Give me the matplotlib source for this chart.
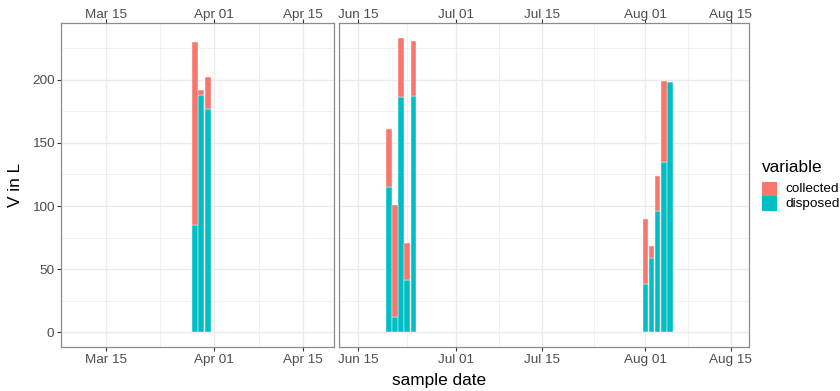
import matplotlib
matplotlib.use("Agg")
import matplotlib.pyplot as plt
import matplotlib.dates as mdates
import matplotlib.transforms as mtrans
from matplotlib.patches import Rectangle
import numpy as np
import datetime as dt

plt.rcParams['font.family'] = ['Liberation Sans', 'DejaVu Sans']

# ---------------- data ----------------
dates_spring = ['2021-03-29', '2021-03-30', '2021-03-31']
disposed_spring = [85, 188, 177]
collected_spring = [145, 4, 25]

dates_summer = ['2021-06-20', '2021-06-21', '2021-06-22', '2021-06-23', '2021-06-24',
                '2021-08-01', '2021-08-02', '2021-08-03', '2021-08-04', '2021-08-05']
disposed_summer = [115, 12, 186, 41, 187, 38, 59, 96, 135, 198]
collected_summer = [46, 89, 47, 30, 44, 52, 9, 28, 64, 0]

ticks_spring = ['2021-03-15', '2021-04-01', '2021-04-15']
ticks_summer = ['2021-06-15', '2021-07-01', '2021-07-15', '2021-08-01', '2021-08-15']
tick_labels_spring = ['Mar 15', 'Apr 01', 'Apr 15']
tick_labels_summer = ['Jun 15', 'Jul 01', 'Jul 15', 'Aug 01', 'Aug 15']

series_names = ['collected', 'disposed']
col_collected = '#F8766D'
col_disposed = '#00BFC4'

y_ticks = [0, 50, 100, 150, 200]

# ---------------- figure ----------------
W, H = 840, 391
fig = plt.figure(figsize=(W / 100, H / 100), dpi=100)

def px_axes(x0, y0, x1, y1):
    return fig.add_axes([x0 / W, 1 - y1 / H, (x1 - x0) / W, (y1 - y0) / H])

ax1 = px_axes(61, 23, 334, 347)
ax2 = px_axes(339, 23, 749, 347)

def d2n(s):
    return mdates.date2num(dt.datetime.strptime(s, '%Y-%m-%d'))

grid_col = '#EBEBEB'
tick_col = '#4D4D4D'

def style_panel(ax, dates, disp, coll, ticks, labels, xlim, show_y):
    x = np.array([d2n(d) for d in dates])
    disp = np.array(disp, float)
    coll = np.array(coll, float)
    ax.bar(x, disp, width=0.9, color=col_disposed, zorder=3, edgecolor='white', linewidth=0.3)
    ax.bar(x, coll, width=0.9, bottom=disp, color=col_collected, zorder=3,
           edgecolor='white', linewidth=0.3)
    ax.set_xlim(d2n(xlim[0]) + xlim[2], d2n(xlim[1]) + xlim[3])
    ax.set_ylim(-11.7, 245.0)
    tk = [d2n(t) for t in ticks]
    ax.set_xticks(tk)
    ax.set_xticklabels(labels)
    minors = [(a + b) / 2 for a, b in zip(tk[:-1], tk[1:])]
    ax.set_xticks(minors, minor=True)
    ax.set_yticks(y_ticks)
    ax.set_yticks([25, 75, 125, 175, 225], minor=True)
    ax.grid(True, which='major', color=grid_col, linewidth=1.0, zorder=0)
    ax.grid(True, which='minor', color=grid_col, linewidth=0.5, zorder=0)
    ax.set_axisbelow(True)
    ax.tick_params(axis='x', which='major', top=True, labeltop=True, bottom=True,
                   labelbottom=True, length=2.7, width=0.8, color='#333333',
                   labelcolor=tick_col, labelsize=9.7, pad=2.0)
    ax.tick_params(axis='x', which='minor', top=False, bottom=False, length=0)
    ax.tick_params(axis='y', which='minor', left=False, length=0)
    if show_y:
        ax.tick_params(axis='y', which='major', length=2.7, width=0.8, color='#333333',
                       labelcolor=tick_col, labelsize=9.7, pad=2.0)
    else:
        ax.tick_params(axis='y', which='major', left=False, labelleft=False)
    shift = mtrans.ScaledTranslation(0, -1.6 / 100, fig.dpi_scale_trans)
    for t in ax.xaxis.get_major_ticks():
        t.label2.set_verticalalignment('baseline')
        t.label2.set_transform(t.label2.get_transform() + shift)
    for s in ax.spines.values():
        s.set_color('#8C8C8C')
        s.set_linewidth(0.9)
        s.set_zorder(5)

style_panel(ax1, dates_spring, disposed_spring, collected_spring, ticks_spring,
            tick_labels_spring, ('2021-03-08', '2021-04-19', 0.0, 0.8), True)
style_panel(ax2, dates_summer, disposed_summer, collected_summer, ticks_summer,
            tick_labels_summer, ('2021-06-11', '2021-08-17', 0.84, 0.95), False)

fig.text(15.5 / W, 1 - 185 / H, 'V in L', rotation=90, ha='center', va='center',
         fontsize=12.4, color='black')
fig.text(439 / W, 1 - 381 / H, 'sample date', ha='center', va='center',
         fontsize=12.4, color='black')

# legend (ggplot-style, placed manually)
fig.text(762 / W, 1 - 172.5 / H, 'variable', ha='left', va='baseline',
         fontsize=12.4, color='black')
legend_colors = [col_collected, col_disposed]
key_top = 182.0
key_h = 14.5
for i, (name, c) in enumerate(zip(series_names, legend_colors)):
    y0 = key_top + i * key_h
    fig.add_artist(Rectangle((762 / W, 1 - (y0 + key_h) / H), 14.5 / W, key_h / H,
                             transform=fig.transFigure, facecolor=c, edgecolor='none'))
    fig.text(785 / W, 1 - (y0 + key_h / 2) / H, name, ha='left', va='center',
             fontsize=9.7, color='black')

fig.savefig('out.png', dpi=100, facecolor='white')
